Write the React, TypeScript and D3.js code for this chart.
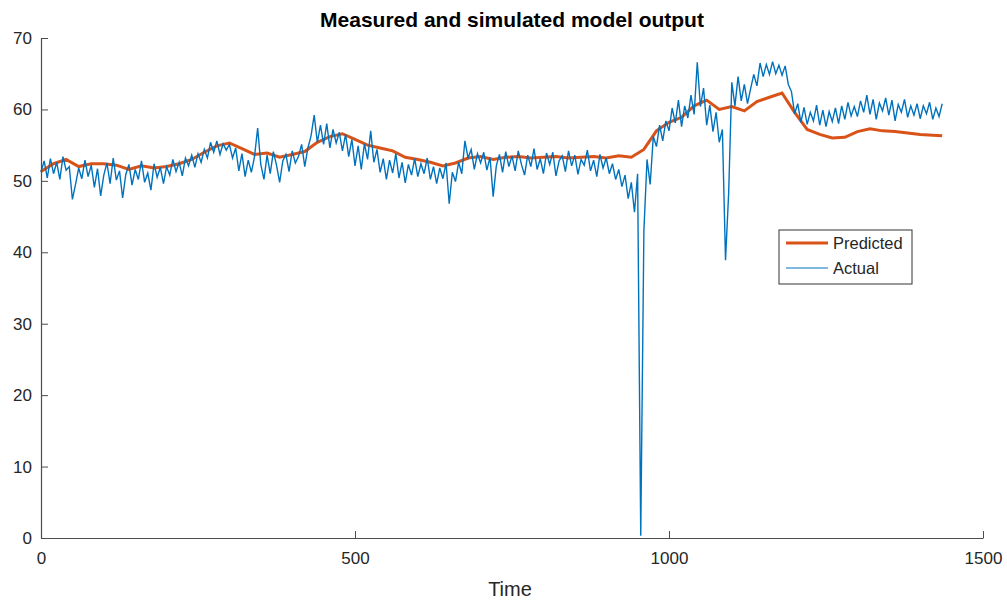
import React, { useEffect, useRef } from 'react'
import * as d3 from 'd3'

// Predicted (simulated) output, read every 20 time units, last point at 1435
const predictedTime = [...d3.range(0, 1440, 20), 1435]
const predictedValues = [
  51.3, 52.4, 53.0, 52.0, 52.4, 52.4, 52.2, 51.6, 52.1, 51.8,
  52.0, 52.4, 53.0, 54.0, 54.9, 55.3, 54.5, 53.7, 53.9, 53.3,
  53.7, 54.1, 55.4, 56.2, 56.6, 55.8, 55.0, 54.6, 54.2, 53.3,
  53.0, 52.6, 52.1, 52.5, 53.2, 53.4, 53.0, 53.3, 53.4, 53.2,
  53.3, 53.4, 53.2, 53.3, 53.4, 53.2, 53.5, 53.3, 54.4, 57.0,
  58.2, 58.9, 60.5, 61.3, 60.0, 60.4, 59.8, 61.1, 61.7, 62.3,
  59.6, 57.2, 56.5, 56.0, 56.1, 56.9, 57.3, 57.0, 56.9, 56.7,
  56.5, 56.4, 56.3,
]

// Measured output, read every 5 time units (0 .. 1435)
const actualTime = d3.range(0, 1440, 5)
const actualValues = [
  51.2, 52.8, 50.4, 53.1, 51.0, 52.6, 50.2, 53.4, 51.5, 52.0,
  47.4, 49.5, 51.8, 50.3, 52.9, 50.6, 52.2, 49.1, 51.7, 47.9,
  50.8, 52.5, 49.6, 53.2, 50.1, 51.4, 47.6, 50.9, 52.3, 49.4,
  51.6, 50.2, 52.8, 49.8, 51.1, 48.7, 52.4, 50.5, 51.9, 49.6,
  52.0, 50.8, 53.0, 51.3, 52.6, 50.7, 53.2, 52.1, 53.6, 51.9,
  53.8, 52.6, 54.4, 53.2, 55.4, 54.0, 55.6, 53.7, 55.2, 54.3,
  55.1, 53.2, 54.6, 51.4, 53.8, 50.6, 52.9, 51.2, 53.4, 57.4,
  52.3, 50.2, 53.6, 51.0, 54.1, 52.2, 49.8, 52.8, 53.7, 51.3,
  54.2, 52.5, 53.4, 55.1, 52.0, 54.6, 56.3, 59.2, 55.4, 57.8,
  55.1, 58.0, 54.6, 57.2, 55.3, 56.8, 54.2, 56.5, 53.4, 55.8,
  52.1, 54.9, 51.6, 55.2, 53.0, 57.0, 52.6, 54.4, 51.2, 53.1,
  50.2, 52.9, 51.1, 53.8, 50.4, 52.6, 49.7, 52.3, 50.8, 53.1,
  50.6, 52.4, 51.0, 53.2, 50.2, 52.0, 49.6, 51.8, 50.3, 52.5,
  46.8, 51.2, 49.9, 52.6, 51.0, 55.6, 53.2, 54.4, 51.6, 53.8,
  52.5, 54.0, 51.5, 53.3, 47.8, 52.1, 53.7, 51.2, 54.1, 52.0,
  53.5, 51.4, 54.2, 52.3, 50.8, 53.6, 52.0, 54.5, 51.6, 53.1,
  51.0, 53.9, 52.3, 54.0, 50.7, 52.8, 53.5, 51.3, 54.2, 52.1,
  53.6, 50.9, 53.0, 52.2, 54.3, 51.4, 52.9, 50.6, 53.7, 51.8,
  53.2, 51.0, 52.4, 50.2, 51.6, 49.2, 50.8, 47.5, 49.8, 45.6,
  51.0, 0.3, 43.0, 53.0, 49.5, 56.2, 54.8, 57.8, 55.6, 58.4,
  57.0, 60.2, 58.1, 61.3, 57.6, 60.5, 58.8, 62.0, 59.3, 66.6,
  60.4, 63.0, 57.8, 60.6, 56.9, 59.6, 55.4, 57.2, 38.9, 48.3,
  63.8, 60.5, 64.6, 61.2, 63.5, 60.8, 62.9, 64.9, 63.3, 66.5,
  64.6, 66.3, 64.9, 66.7, 65.0, 66.2, 64.8, 66.1, 63.5, 62.5,
  59.4, 60.8, 58.2, 60.3, 57.9, 59.6, 58.4, 60.6, 57.8, 59.9,
  57.6, 59.7, 58.3, 60.2, 58.0, 60.5, 58.6, 61.0, 59.1, 60.4,
  59.0, 61.2, 59.6, 62.0, 59.3, 61.4, 58.6, 60.9, 59.8, 61.6,
  59.2, 61.3, 58.4, 60.7, 59.6, 61.4, 58.9, 60.5, 59.2, 60.8,
  58.7, 60.5, 59.4, 61.0, 58.6, 60.2, 59.0, 60.8,
]

const xTicks = [0, 500, 1000, 1500]
const yTicks = [0, 10, 20, 30, 40, 50, 60, 70]
const legendLabels = ['Predicted', 'Actual']

const W = 1007
const H = 605
const FONT = '"Liberation Sans", Arial, Helvetica, sans-serif'

function App() {
  const ref = useRef<SVGSVGElement>(null)

  useEffect(() => {
    const svg = d3.select(ref.current)
    svg.selectAll('*').remove()

    const m = { left: 41, right: 983, top: 38, bottom: 538 }
    const x = d3.scaleLinear().domain([0, 1500]).range([m.left, m.right])
    const y = d3.scaleLinear().domain([0, 70]).range([m.bottom, m.top])

    const axisColor = '#4d4d4d'
    const textColor = '#262626'

    // lines
    const pred = predictedTime.map((t, i) => [t, predictedValues[i]] as [number, number])
    const act = actualTime.map((t, i) => [t, actualValues[i]] as [number, number])
    const line = d3.line<[number, number]>().x(d => x(d[0])).y(d => y(d[1]))

    svg.append('path')
      .datum(pred)
      .attr('fill', 'none')
      .attr('stroke', '#D95319')
      .attr('stroke-width', 3)
      .attr('d', line)

    svg.append('path')
      .datum(act)
      .attr('fill', 'none')
      .attr('stroke', '#0072BD')
      .attr('stroke-width', 1.4)
      .attr('d', line)

    // axes (MATLAB style, ticks inward, box off)
    const fmt = d3.format('d')
    const xAxis = svg.append('g').attr('transform', `translate(0,${m.bottom})`)
    xAxis.call(d3.axisBottom(x).tickValues(xTicks).tickFormat(fmt).tickSize(-7).tickPadding(14).tickSizeOuter(0))
    const yAxis = svg.append('g').attr('transform', `translate(${m.left},0)`)
    yAxis.call(d3.axisLeft(y).tickValues(yTicks).tickFormat(fmt).tickSize(-7).tickPadding(9).tickSizeOuter(0))

    svg.selectAll('.domain').attr('stroke', axisColor).attr('stroke-width', 1.2)
    svg.selectAll('.tick line').attr('stroke', axisColor)
    svg.selectAll('.tick text')
      .attr('fill', textColor)
      .style('font-family', FONT)
      .style('font-size', '17px')

    // title & label
    svg.append('text')
      .attr('x', (m.left + m.right) / 2)
      .attr('y', 27)
      .attr('text-anchor', 'middle')
      .style('font-family', FONT)
      .style('font-size', '21px')
      .style('font-weight', 'bold')
      .attr('fill', '#000')
      .text('Measured and simulated model output')

    svg.append('text')
      .attr('x', (m.left + m.right) / 2 - 2)
      .attr('y', 596)
      .attr('text-anchor', 'middle')
      .style('font-family', FONT)
      .style('font-size', '20px')
      .attr('fill', textColor)
      .text('Time')

    // legend
    const lg = svg.append('g').attr('transform', 'translate(779,230)')
    lg.append('rect')
      .attr('width', 133).attr('height', 54)
      .attr('fill', '#fff').attr('stroke', '#333').attr('stroke-width', 1)
    const colors = ['#D95319', '#0072BD']
    const widths = [3, 1]
    legendLabels.forEach((lab, i) => {
      const yy = 13 + i * 25
      lg.append('line')
        .attr('x1', 7).attr('x2', 49).attr('y1', yy).attr('y2', yy)
        .attr('stroke', colors[i]).attr('stroke-width', widths[i])
      lg.append('text')
        .attr('x', 54).attr('y', yy + 6)
        .style('font-family', FONT)
        .style('font-size', '16.5px')
        .attr('fill', textColor)
        .text(lab)
    })
  }, [])

  return (
    <svg ref={ref} width={W} height={H}
      style={{ position: 'absolute', left: 0, top: 0, background: '#fff' }} />
  )
}

export default App
